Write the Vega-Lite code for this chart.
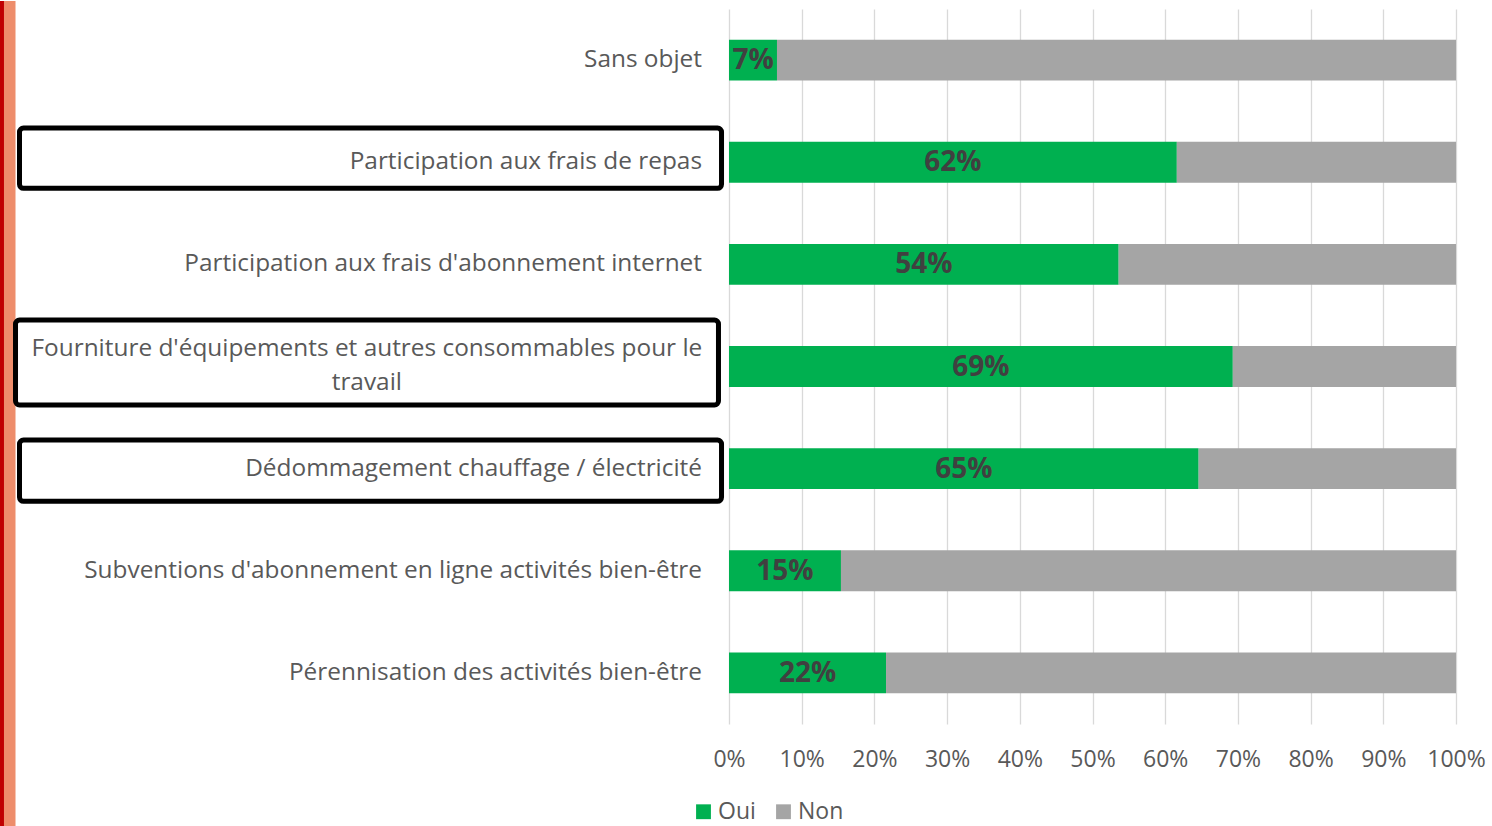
{
  "$schema": "https://vega.github.io/schema/vega-lite/v6.json",
  "padding": {"left": 0, "top": 0, "right": 0, "bottom": 0},
  "bounds": "flush",
  "config": {"view": {"stroke": null}, "font": "Open Sans", "concat": {"spacing": 4}},
  "datasets": {
    "reponses": [
      {"cat": "Sans objet", "rep": "Oui", "v": 0.066},
      {"cat": "Sans objet", "rep": "Non", "v": 0.934},
      {"cat": "Participation aux frais de repas", "rep": "Oui", "v": 0.616},
      {"cat": "Participation aux frais de repas", "rep": "Non", "v": 0.384},
      {"cat": "Participation aux frais d'abonnement internet", "rep": "Oui", "v": 0.536},
      {"cat": "Participation aux frais d'abonnement internet", "rep": "Non", "v": 0.464},
      {"cat": "Fourniture d'équipements et autres consommables pour le\ntravail", "rep": "Oui", "v": 0.693},
      {"cat": "Fourniture d'équipements et autres consommables pour le\ntravail", "rep": "Non", "v": 0.307},
      {"cat": "Dédommagement chauffage / électricité", "rep": "Oui", "v": 0.646},
      {"cat": "Dédommagement chauffage / électricité", "rep": "Non", "v": 0.354},
      {"cat": "Subventions d'abonnement en ligne activités bien-être", "rep": "Oui", "v": 0.154},
      {"cat": "Subventions d'abonnement en ligne activités bien-être", "rep": "Non", "v": 0.846},
      {"cat": "Pérennisation des activités bien-être", "rep": "Oui", "v": 0.216},
      {"cat": "Pérennisation des activités bien-être", "rep": "Non", "v": 0.784}
    ],
    "bande": [{"part": "sombre"}, {"part": "clair"}]
  },
  "hconcat": [
    {
      "width": 725,
      "height": 715,
      "layer": [
        {
          "data": {"name": "bande"},
          "layer": [
            {
              "transform": [{"filter": "datum.part == 'sombre'"}],
              "mark": {"type": "rect", "fill": "#C00000", "clip": false},
              "encoding": {
                "x": {"datum": 0, "type": "quantitative", "scale": {"domain": [0, 1]}, "axis": null},
                "x2": {"datum": 0.0055},
                "y": {"datum": 1.0112, "type": "quantitative", "scale": {"domain": [0, 1]}, "axis": null},
                "y2": {"datum": -0.145}
              }
            },
            {
              "transform": [{"filter": "datum.part == 'clair'"}],
              "mark": {"type": "rect", "fill": "#EE8D6B", "clip": false},
              "encoding": {
                "x": {"datum": 0.0055, "type": "quantitative"},
                "x2": {"datum": 0.0214},
                "y": {"datum": 1.0112, "type": "quantitative"},
                "y2": {"datum": -0.145}
              }
            }
          ]
        },
        {
          "data": {"name": "reponses"},
          "encoding": {
            "y": {"field": "cat", "type": "nominal", "axis": null, "scale": {"paddingInner": 0, "paddingOuter": 0},
              "sort": ["Sans objet", "Participation aux frais de repas", "Participation aux frais d'abonnement internet", "Fourniture d'équipements et autres consommables pour le\ntravail", "Dédommagement chauffage / électricité", "Subventions d'abonnement en ligne activités bien-être", "Pérennisation des activités bien-être"]}
          },
          "layer": [
            {
              "transform": [
                {"filter": "datum.rep == 'Oui'"},
                {"filter": {"field": "cat", "oneOf": ["Participation aux frais de repas"]}}
              ],
              "mark": {"type": "bar", "filled": false, "stroke": "#000000", "strokeWidth": 5, "cornerRadius": 4, "height": {"band": 0.59}, "yOffset": -4},
              "encoding": {
                "x": {"datum": 0.0269, "type": "quantitative"},
                "x2": {"datum": 0.9952}
              }
            },
            {
              "transform": [
                {"filter": "datum.rep == 'Oui'"},
                {"filter": {"field": "cat", "oneOf": ["Dédommagement chauffage / électricité"]}}
              ],
              "mark": {"type": "bar", "filled": false, "stroke": "#000000", "strokeWidth": 5, "cornerRadius": 4, "height": {"band": 0.6}, "yOffset": 2},
              "encoding": {
                "x": {"datum": 0.0269, "type": "quantitative"},
                "x2": {"datum": 0.9952}
              }
            },
            {
              "transform": [
                {"filter": "datum.rep == 'Oui'"},
                {"filter": {"field": "cat", "oneOf": ["Fourniture d'équipements et autres consommables pour le\ntravail"]}}
              ],
              "mark": {"type": "bar", "filled": false, "stroke": "#000000", "strokeWidth": 5, "cornerRadius": 4, "height": {"band": 0.83}, "yOffset": -4},
              "encoding": {
                "x": {"datum": 0.0214, "type": "quantitative"},
                "x2": {"datum": 0.991}
              }
            },
            {
              "transform": [
                {"filter": "datum.rep == 'Oui'"},
                {"filter": {"not": {"field": "cat", "oneOf": ["Fourniture d'équipements et autres consommables pour le\ntravail"]}}}
              ],
              "mark": {"type": "text", "align": "right", "baseline": "middle", "fontSize": 24.4, "color": "#595959"},
              "encoding": {
                "x": {"datum": 0.9683, "type": "quantitative"},
                "text": {"field": "cat"}
              }
            },
            {
              "transform": [
                {"filter": "datum.rep == 'Oui'"},
                {"filter": {"field": "cat", "oneOf": ["Fourniture d'équipements et autres consommables pour le\ntravail"]}}
              ],
              "mark": {"type": "text", "align": "center", "baseline": "middle", "fontSize": 24.4, "color": "#595959", "lineBreak": "\n", "lineHeight": 34, "dy": -18},
              "encoding": {
                "x": {"datum": 0.506, "type": "quantitative"},
                "text": {"field": "cat"}
              }
            }
          ]
        }
      ],
      "resolve": {"scale": {"y": "independent"}, "axis": {"y": "independent"}}
    },
    {
      "width": 727,
      "height": 715,
      "data": {"name": "reponses"},
      "encoding": {
        "y": {"field": "cat", "type": "nominal", "axis": null, "scale": {"paddingInner": 0.6, "paddingOuter": 0.3},
          "sort": ["Sans objet", "Participation aux frais de repas", "Participation aux frais d'abonnement internet", "Fourniture d'équipements et autres consommables pour le\ntravail", "Dédommagement chauffage / électricité", "Subventions d'abonnement en ligne activités bien-être", "Pérennisation des activités bien-être"]}
      },
      "layer": [
        {
          "mark": {"type": "bar"},
          "encoding": {
            "x": {
              "field": "v", "type": "quantitative", "stack": "zero",
              "scale": {"domain": [0, 1]},
              "axis": {"format": ".0%", "values": [0, 0.1, 0.2, 0.3, 0.4, 0.5, 0.6, 0.7, 0.8, 0.9, 1], "grid": true, "gridColor": "#D9D9D9", "gridWidth": 1.3, "domain": false, "ticks": false, "labelFontSize": 23, "labelColor": "#595959", "labelPadding": 24, "labelFlush": false, "title": null}
            },
            "color": {
              "field": "rep", "type": "nominal", "sort": ["Oui", "Non"],
              "scale": {"domain": ["Oui", "Non"], "range": ["#00B050", "#A5A5A5"]},
              "legend": {"orient": "none", "legendX": 692, "legendY": 791, "direction": "horizontal", "title": null, "symbolType": "square", "symbolSize": 220, "symbolStrokeWidth": 0, "labelFontSize": 23, "labelColor": "#595959", "columnPadding": 16, "labelOffset": 3}
            },
            "order": {"field": "rep", "sort": "descending"}
          }
        },
        {
          "transform": [{"filter": "datum.rep == 'Oui'"}],
          "mark": {"type": "text", "fontSize": 28, "fontWeight": "bold", "color": "#404040", "align": "center", "baseline": "middle", "dy": 1},
          "encoding": {
            "x": {"field": "v", "type": "quantitative", "stack": "zero", "bandPosition": 0.5},
            "text": {"field": "v", "format": ".0%"}
          }
        }
      ]
    }
  ]
}
